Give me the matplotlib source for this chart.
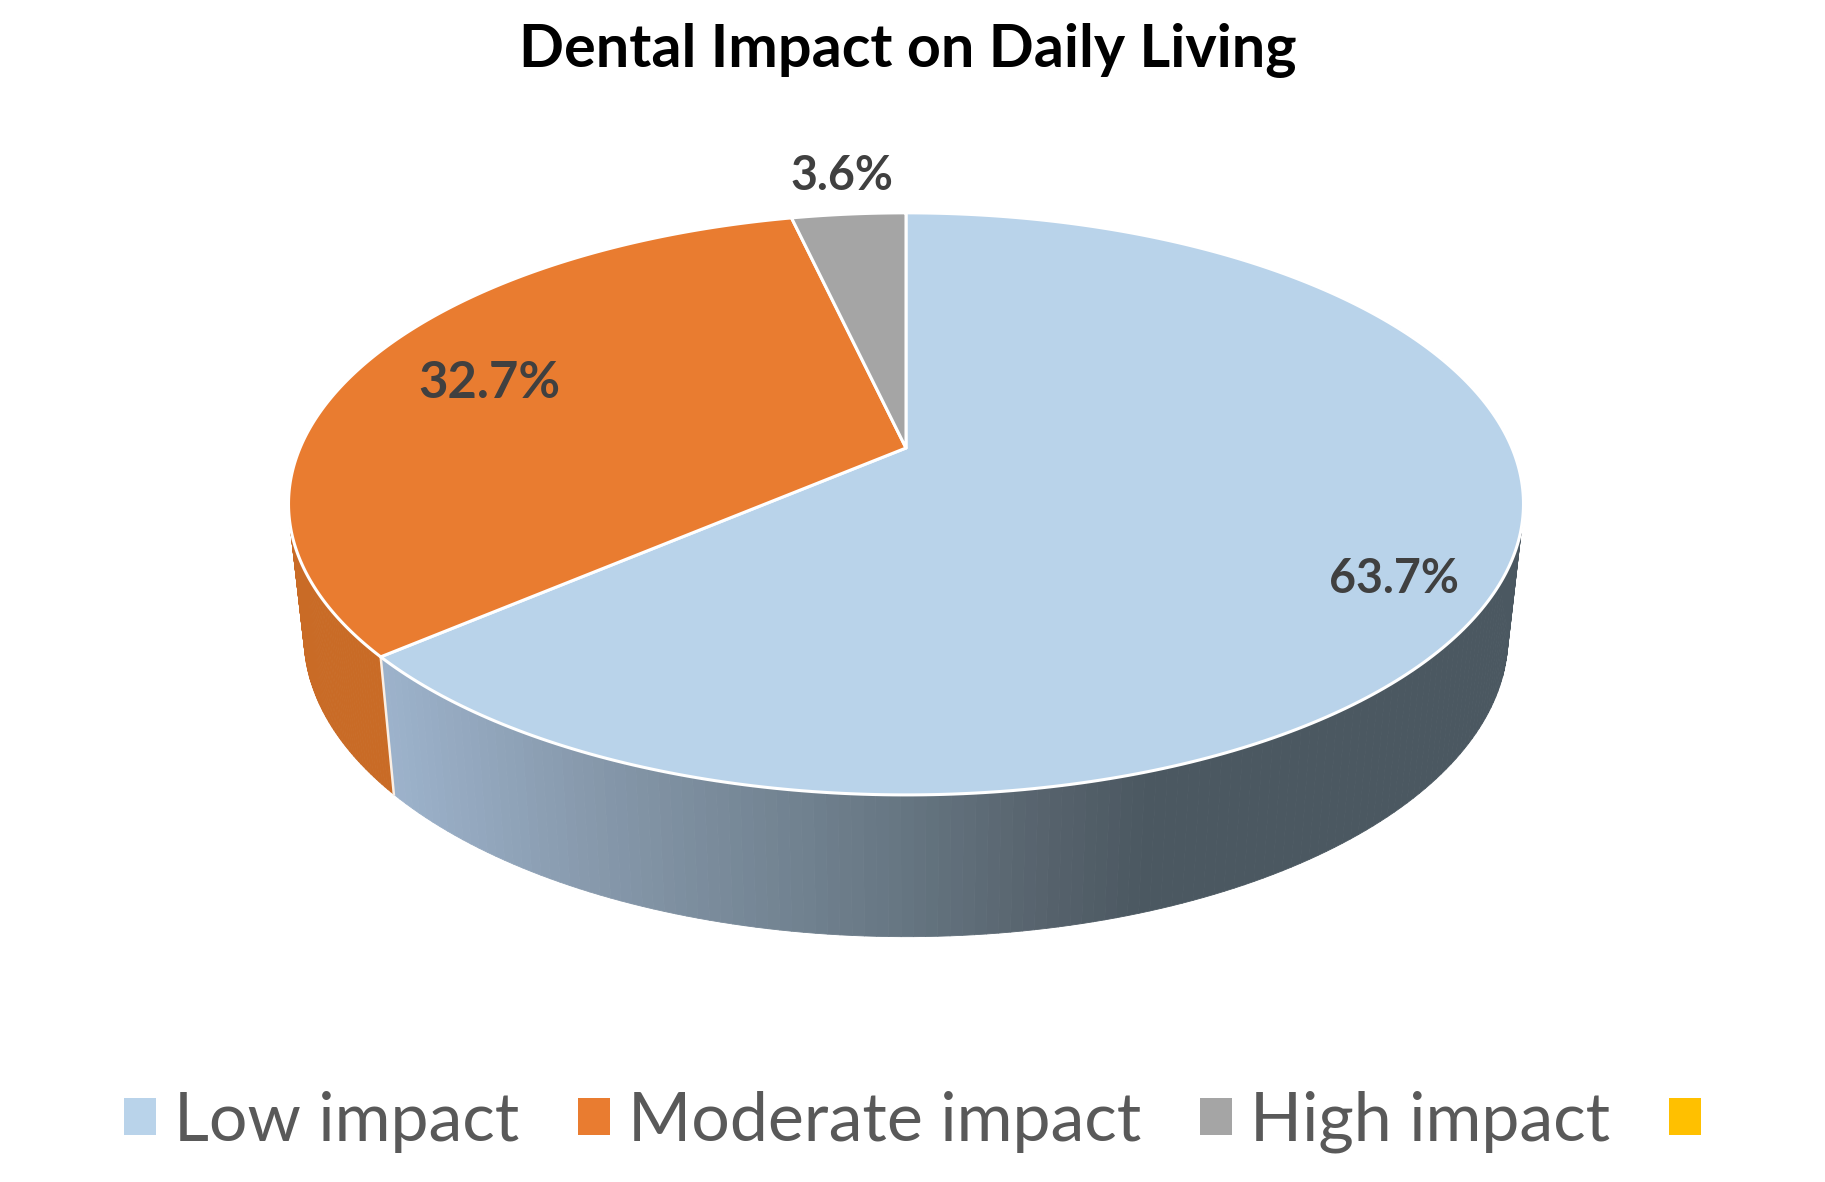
import numpy as np
import matplotlib
matplotlib.use("Agg")
import matplotlib.pyplot as plt
from matplotlib.collections import PolyCollection
from matplotlib.colors import LinearSegmentedColormap
from matplotlib.patches import Patch

categories = ["Low impact", "Moderate impact", "High impact", ""]
values = [63.7, 32.7, 3.6, 0.0]
value_labels = ["63.7%", "32.7%", "3.6%"]
colors = ["#B9D3EA", "#E97C30", "#A5A5A5", "#FFC000"]
title = "Dental Impact on Daily Living"

plt.rcParams["font.family"] = ["Lato", "DejaVu Sans"]

TILT = 0.192
APEX = (906, 448)


def project(theta, x0, y0, bx, ay):
    """Map an angle (clockwise from 12 o'clock, radians) to the tilted disc."""
    x, y = np.sin(theta), np.cos(theta)
    d = 1 + TILT * y
    return x0 + bx * x / d, y0 - ay * y / d


def top_rim(theta):
    return project(theta, APEX[0], APEX[1], 606, 280.3)


def bottom_rim(theta):
    return project(theta, 906, 579, 590.8, 289)


fig = plt.figure(figsize=(18.25, 11.82), dpi=100)
ax = fig.add_axes([0, 0, 1, 1])
ax.set_xlim(0, 1825)
ax.set_ylim(1182, 0)
ax.axis("off")

side_blue = LinearSegmentedColormap.from_list(
    "side_blue", [(0, "#9DB3CC"), (0.27, "#8799AC"), (0.68, "#667682"), (0.87, "#56626C"), (1, "#4B5861")])
side_orange = LinearSegmentedColormap.from_list("side_orange", ["#C96B26", "#CE7029"])
side_grey = LinearSegmentedColormap.from_list("side_grey", ["#808080", "#808080"])
side_maps = [side_blue, side_orange, side_grey]

edges = np.cumsum([0] + values[:3]) / 100 * 2 * np.pi

# side wall, one narrow strip per step so the shading follows x
for i in range(3):
    th = np.linspace(edges[i], edges[i + 1], 240)
    tx, ty = top_rim(th)
    bx, by = bottom_rim(th)
    strips = [[(tx[j], ty[j]), (tx[j + 1], ty[j + 1]), (bx[j + 1], by[j + 1]), (bx[j], by[j])]
              for j in range(len(th) - 1)]
    shade = np.clip((bx[:-1] - 393) / (1150 - 393), 0, 1)
    wall = PolyCollection(strips, array=shade, cmap=side_maps[i], clim=(0, 1),
                          edgecolors="face", linewidths=0.6, zorder=1)
    ax.add_collection(wall)

# seam between the two visible walls
tx, ty = top_rim(edges[1])
bx, by = bottom_rim(edges[1])
ax.plot([tx, bx], [ty, by], color="#FBEFE4", lw=1.8, zorder=2)

# top face
for i in range(3):
    th = np.linspace(edges[i], edges[i + 1], 300)
    rx, ry = top_rim(th)
    ax.fill(np.r_[APEX[0], rx], np.r_[APEX[1], ry], facecolor=colors[i], edgecolor="white",
            linewidth=2.2, joinstyle="round", zorder=3)

label_pos = [(1394, 579), (489, 384), (842, 176)]
label_size = [33.5, 36.5, 33.5]
for txt, (lx, ly), fs in zip(value_labels, label_pos, label_size):
    ax.text(lx, ly, txt, ha="center", va="center", fontsize=fs, fontweight="bold",
            color="#404040", zorder=4)

ax.text(908, 51, title, ha="center", va="center", fontsize=42.7, fontweight="bold", color="black")

handles = [Patch(facecolor=c, edgecolor="none") for c in colors]
ax.legend(handles, categories, ncol=4, loc="center", bbox_to_anchor=(0.505, (1182 - 1122) / 1182),
          frameon=False, fontsize=49, labelcolor="#595959", handlelength=0.47, handleheight=0.47,
          handletextpad=0.27, columnspacing=0.86, borderpad=0, borderaxespad=0)

fig.savefig("out.png", dpi=100, facecolor="white")
